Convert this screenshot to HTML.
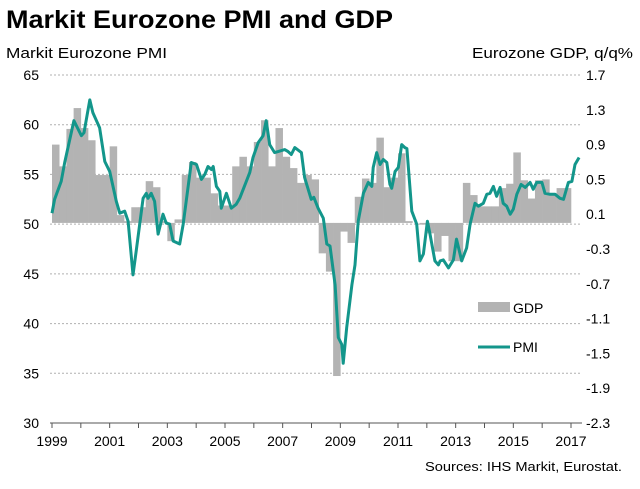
<!DOCTYPE html>
<html><head><meta charset="utf-8"><style>
body{margin:0;background:#fff;font-family:"Liberation Sans",Arial,sans-serif;}
svg{display:block}
</style></head><body>
<svg id="chart" width="640" height="489" viewBox="0 0 640 489" xmlns="http://www.w3.org/2000/svg" font-family="Liberation Sans, Arial, sans-serif">
<text x="6" y="28" font-size="25" font-weight="bold" fill="#000" textLength="387" lengthAdjust="spacingAndGlyphs">Markit Eurozone PMI and GDP</text>
<text x="6" y="58" font-size="15" fill="#000" textLength="161" lengthAdjust="spacingAndGlyphs">Markit Eurozone PMI</text>
<text x="472" y="58" font-size="15" fill="#000" textLength="161" lengthAdjust="spacingAndGlyphs">Eurozone GDP, q/q%</text>
<text x="425" y="471" font-size="13" fill="#000" textLength="197" lengthAdjust="spacingAndGlyphs">Sources: IHS Markit, Eurostat.</text>
<g id="grid"></g><g id="bars"></g><g id="line"></g><g id="axes"></g>
<g>
<rect x="478" y="302" width="32" height="10" fill="#b3b3b3"/>
<text x="513" y="313" font-size="14">GDP</text>
<line x1="478" y1="347" x2="510" y2="347" stroke="#13968b" stroke-width="3"/>
<text x="513" y="352" font-size="14">PMI</text>
</g>
</svg>
<script>
const gdp=[0.90,0.65,1.08,1.32,1.09,0.95,0.55,0.55,0.88,0.09,0.02,0.18,0.18,0.48,0.41,0.02,-0.21,0.04,0.55,0.70,0.52,0.52,0.34,0.20,0.20,0.65,0.76,0.65,0.93,1.18,0.65,1.09,0.76,0.63,0.46,0.55,0.50,-0.35,-0.56,-1.76,-0.10,-0.23,0.30,0.51,0.46,0.98,0.41,0.52,0.80,0.02,0.00,-0.02,-0.12,-0.33,-0.15,-0.44,-0.44,0.46,0.32,0.19,0.19,0.19,0.40,0.45,0.81,0.49,0.28,0.49,0.50,0.34,0.40,0.40];
const pmiDates=[1999.00,1999.09,1999.32,1999.44,1999.76,2000.02,2000.11,2000.31,2000.42,2000.65,2000.83,2001.00,2001.23,2001.35,2001.52,2001.64,2001.81,2001.92,2002.16,2002.27,2002.33,2002.44,2002.56,2002.68,2002.85,2002.96,2003.08,2003.20,2003.43,2003.55,2003.83,2004.01,2004.18,2004.30,2004.41,2004.53,2004.59,2004.70,2004.82,2004.87,2005.05,2005.22,2005.39,2005.51,2005.74,2005.86,2005.97,2006.15,2006.32,2006.43,2006.55,2006.72,2006.84,2007.07,2007.19,2007.30,2007.42,2007.65,2007.76,2007.99,2008.08,2008.23,2008.41,2008.53,2008.64,2008.82,2008.93,2009.05,2009.10,2009.22,2009.40,2009.51,2009.62,2009.80,2009.97,2010.09,2010.14,2010.26,2010.38,2010.49,2010.61,2010.72,2010.78,2010.90,2011.01,2011.13,2011.24,2011.31,2011.48,2011.65,2011.76,2011.88,2012.02,2012.11,2012.28,2012.40,2012.46,2012.57,2012.75,2012.92,2013.03,2013.21,2013.38,2013.50,2013.67,2013.79,2013.96,2014.08,2014.19,2014.31,2014.42,2014.54,2014.65,2014.77,2014.89,2015.00,2015.12,2015.27,2015.41,2015.58,2015.69,2015.81,2015.99,2016.10,2016.27,2016.45,2016.62,2016.74,2016.91,2017.03,2017.14,2017.28];
const pmi=[51.1,52.5,54.3,56.2,60.4,58.9,59.2,62.5,61.2,59.7,56.3,55.3,52.3,51.1,51.3,50.3,44.9,47.3,52.6,53.1,52.6,53.1,52.3,49.0,51.0,50.1,50.0,48.3,48.0,50.0,56.2,56.0,54.5,55.0,55.8,55.5,55.8,53.8,53.3,51.6,53.1,51.6,52.0,52.6,54.3,55.2,56.7,58.2,58.9,60.4,58.0,57.2,57.3,57.5,57.3,57.0,57.7,57.2,54.7,52.5,52.7,51.6,50.6,48.0,47.8,43.9,38.6,37.9,36.0,39.6,43.9,45.9,50.3,53.1,54.2,53.8,55.7,57.2,56.0,56.5,56.2,54.0,53.6,55.3,55.7,58.0,57.7,57.6,51.3,50.0,46.3,47.0,50.3,49.0,46.3,45.9,46.3,46.4,45.6,46.4,48.5,46.3,47.6,50.0,52.1,51.8,52.1,53.0,53.1,53.8,52.8,53.7,52.1,51.8,51.0,51.5,53.0,54.0,53.7,54.2,53.5,54.2,54.2,53.1,53.0,53.0,52.6,52.5,54.2,54.3,56.0,56.7];
const leftTicks=[65,60,55,50,45,40,35,30];
const rightTicks=["1.7","1.3","0.9","0.5","0.1","-0.3","-0.7","-1.1","-1.5","-1.9","-2.3"];
const xTicks=[1999,2001,2003,2005,2007,2009,2011,2013,2015,2017];
const NS="http://www.w3.org/2000/svg";
const X0=52,X1=571,YR0=1999,YR1=2017;
const xs=t=>X0+(t-YR0)*(X1-X0)/(YR1-YR0);
const yL=v=>75+(65-v)*(423-75)/35;
const yR=v=>75+(1.7-v)*(423-75)/4;
function mk(tag,attrs,parent){const e=document.createElementNS(NS,tag);for(const k in attrs)e.setAttribute(k,attrs[k]);parent.appendChild(e);return e;}
const grid=document.getElementById('grid'),bars=document.getElementById('bars'),line=document.getElementById('line'),axes=document.getElementById('axes');
leftTicks.forEach(v=>{
  if(v>30){const g=mk('line',{x1:50,x2:582,y1:yL(v),y2:yL(v),stroke:'#b0b0b0','stroke-dasharray':'2,2','stroke-width':1},grid);
  
  }
  const t=mk('text',{x:39,y:yL(v)+5,'font-size':14,'text-anchor':'end'},axes);t.textContent=v;
  
  
});
rightTicks.forEach(s=>{
  const t=mk('text',{x:586,y:yR(parseFloat(s))+5,'font-size':14},axes);t.textContent=s;
  
  
});
const bw=(xs(2000)-xs(1999))/4;
gdp.forEach((v,i)=>{
  const x=xs(YR0+i/4),y0=yR(0),y1=yR(v);
  const r=mk('rect',{x:x,y:Math.min(y0,y1),width:bw+0.3,height:Math.abs(y1-y0),fill:'#b3b3b3'},bars);
  
  
});
const pts=pmi.map((v,i)=>xs(pmiDates[i]).toFixed(1)+','+yL(v).toFixed(1)).join(' ');
const pl=mk('polyline',{points:pts,fill:'none',stroke:'#13968b','stroke-width':3,'stroke-linejoin':'round'},line);


const ax=mk('line',{x1:50,x2:582,y1:423,y2:423,stroke:'#555','stroke-width':1},axes);


for(let yr=YR0;yr<=YR1;yr++){
  const tk=mk('line',{x1:xs(yr),x2:xs(yr),y1:423,y2:428,stroke:'#555'},axes);
  
  
}
xTicks.forEach(yr=>{
  const t=mk('text',{x:xs(yr),y:446,'font-size':14,'text-anchor':'middle'},axes);t.textContent=yr;
  
  
});
</script>
</body></html>
